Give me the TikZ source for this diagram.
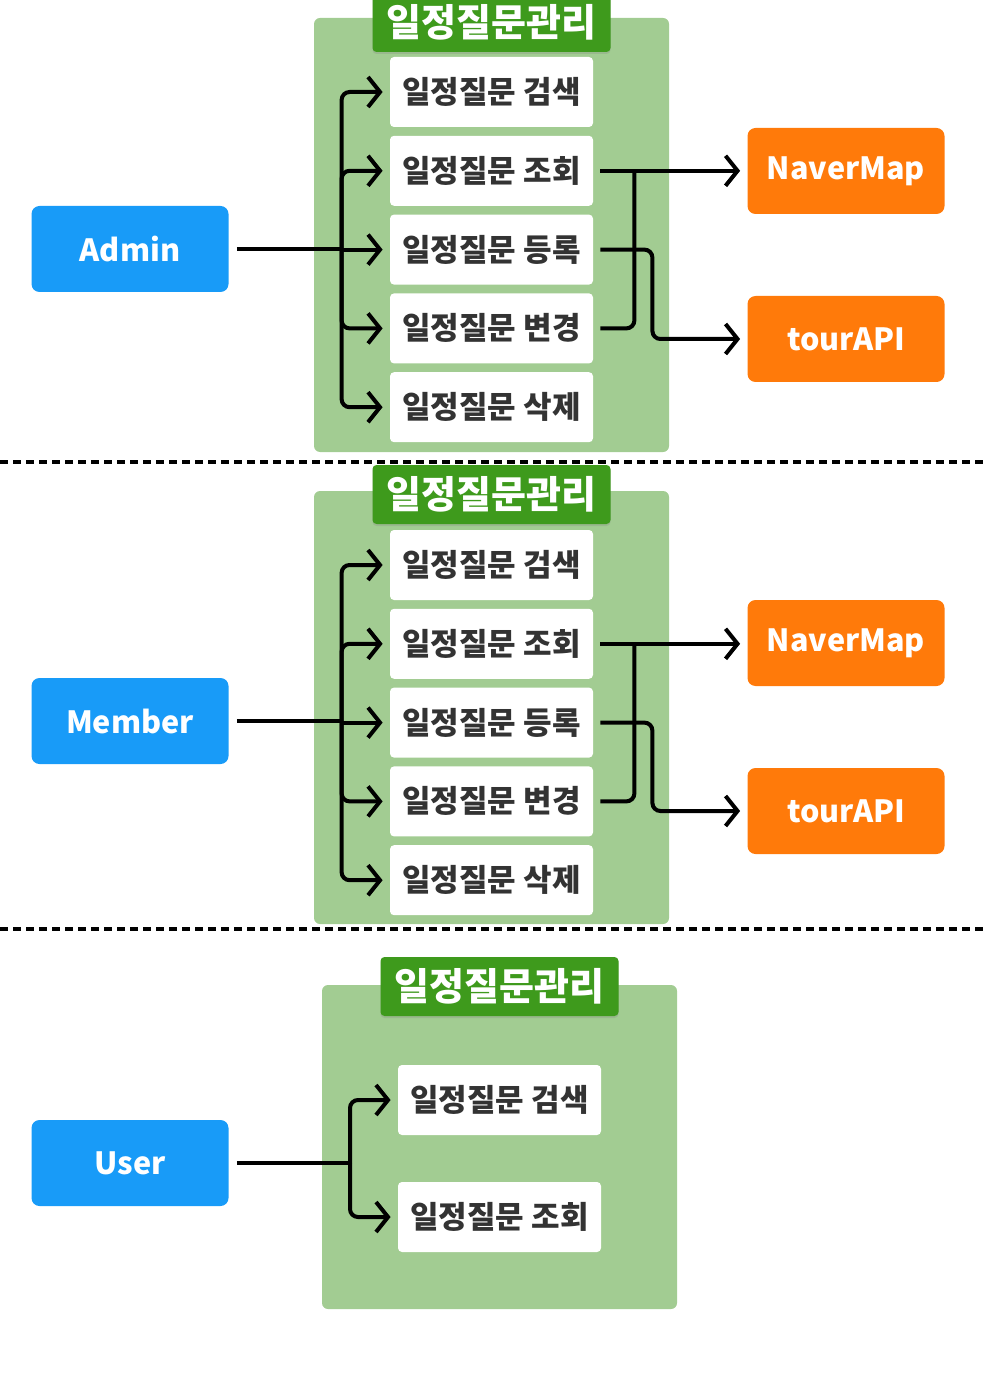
\documentclass[tikz,border=0pt]{standalone}
\usepackage{fontspec}
\setmainfont{Noto Sans CJK KR}
\usepackage{tikz}
\usetikzlibrary{positioning, arrows.meta, shadows}
\definecolor{panelgreen}{RGB}{162,204,146}
\definecolor{titlegreen}{RGB}{62,154,28}
\definecolor{actorblue}{RGB}{24,155,248}
\definecolor{apiorange}{RGB}{255,122,10}
\definecolor{textgray}{RGB}{51,51,51}

\begin{document}
\begin{tikzpicture}[x=0.5pt, y=-0.5pt, node distance=4pt and 1.0cm,
  panel/.style={fill=panelgreen, rounded corners=3pt},
  title/.style={fill=titlegreen, rounded corners=2pt, minimum width=119pt, minimum height=29.5pt, text=white, font=\fontsize{19}{22}\selectfont\bfseries, drop shadow={opacity=0.25, shadow xshift=0pt, shadow yshift=-1pt}},
  usecase/.style={fill=white, rounded corners=2pt, minimum width=101.5pt, minimum height=35pt, inner sep=0pt, text=textgray, font=\fontsize{15.5}{17}\selectfont\bfseries},
  actor/.style={fill=actorblue, rounded corners=4pt, minimum width=98.5pt, minimum height=43pt, text=white, font=\fontsize{15.3}{18}\selectfont\bfseries},
  api/.style={fill=apiorange, rounded corners=4pt, minimum width=98.5pt, minimum height=43pt, text=white, font=\fontsize{15.3}{18}\selectfont\bfseries},
  line/.style={line width=2pt, rounded corners=4pt, shorten <=3.5pt},
  arr/.style={line, -{Straight Barb[length=6pt, width=15pt, line width=2pt]}, shorten >=3.5pt},
  sep/.style={line width=1.6pt, dash pattern=on 4pt off 2.5pt}]
  \useasboundingbox (0,0) rectangle (988,1395);

  % Admin
  \fill[panel] (314,18) rectangle (669,452);
  \node[title] (t1) at (491.5,22.5) {일정질문관리};
  \node[usecase] (s1a) at (491.5,92) {일정질문 검색};
  \node[usecase, below=of s1a] (s1b) {일정질문 조회};
  \node[usecase, below=of s1b] (s1c) {일정질문 등록};
  \node[usecase, below=of s1c] (s1d) {일정질문 변경};
  \node[usecase, below=of s1d] (s1e) {일정질문 삭제};
  \node[actor] (admin) at (130,249) {Admin};
  \node[api] (nav1) at (846,171) {NaverMap};
  \node[api] (tour1) at (846,339) {tourAPI};
  \coordinate (bus1) at ([xshift=-24pt]s1c.west);
  \coordinate (j1) at ([xshift=20.5pt]s1b.east);
  \coordinate (k1) at ([xshift=29.5pt]s1c.east);
  \draw[line, shorten <=4pt] (admin.east) -- (admin.east -| bus1);
  \draw[arr, shorten <=0pt] (bus1) |- (s1a.west);
  \draw[arr, shorten <=0pt] (bus1) |- (s1b.west);
  \draw[arr, shorten <=0pt] (bus1) -- (s1c.west);
  \draw[arr, shorten <=0pt] (bus1) |- (s1d.west);
  \draw[arr, shorten <=0pt] (bus1) |- (s1e.west);
  \draw[arr] (s1b.east) -- (s1b.east -| nav1.west);
  \draw[line] (s1d.east) -| (j1);
  \draw[arr] (s1c.east) -- (k1) |- (tour1.west);

  \draw[sep] (0,462) -- (988,462);

  % Member
  \fill[panel] (314,491) rectangle (669,924);
  \node[title] (t2) at (491.5,494.5) {일정질문관리};
  \node[usecase] (s2a) at (491.5,565) {일정질문 검색};
  \node[usecase, below=of s2a] (s2b) {일정질문 조회};
  \node[usecase, below=of s2b] (s2c) {일정질문 등록};
  \node[usecase, below=of s2c] (s2d) {일정질문 변경};
  \node[usecase, below=of s2d] (s2e) {일정질문 삭제};
  \node[actor] (member) at (130,721) {Member};
  \node[api] (nav2) at (846,643) {NaverMap};
  \node[api] (tour2) at (846,811) {tourAPI};
  \coordinate (bus2) at ([xshift=-24pt]s2c.west);
  \coordinate (j2) at ([xshift=20.5pt]s2b.east);
  \coordinate (k2) at ([xshift=29.5pt]s2c.east);
  \draw[line, shorten <=4pt] (member.east) -- (member.east -| bus2);
  \draw[arr, shorten <=0pt] (bus2) |- (s2a.west);
  \draw[arr, shorten <=0pt] (bus2) |- (s2b.west);
  \draw[arr, shorten <=0pt] (bus2) -- (s2c.west);
  \draw[arr, shorten <=0pt] (bus2) |- (s2d.west);
  \draw[arr, shorten <=0pt] (bus2) |- (s2e.west);
  \draw[arr] (s2b.east) -- (s2b.east -| nav2.west);
  \draw[line] (s2d.east) -| (j2);
  \draw[arr] (s2c.east) -- (k2) |- (tour2.west);

  \draw[sep] (0,929) -- (988,929);

  % User
  \fill[panel] (322,985) rectangle (677,1309);
  \node[title] (t3) at (499.5,986.5) {일정질문관리};
  \node[usecase] (s3a) at (499.5,1100) {일정질문 검색};
  \node[usecase] (s3b) at (499.5,1217) {일정질문 조회};
  \node[actor] (user) at (130,1163) {User};
  \coordinate (bus3) at (350,1163);
  \draw[line, shorten <=4pt] (user.east) -- (bus3);
  \draw[arr, shorten <=0pt] (bus3) |- (s3a.west);
  \draw[arr, shorten <=0pt] (bus3) |- (s3b.west);
\end{tikzpicture}
\end{document}
